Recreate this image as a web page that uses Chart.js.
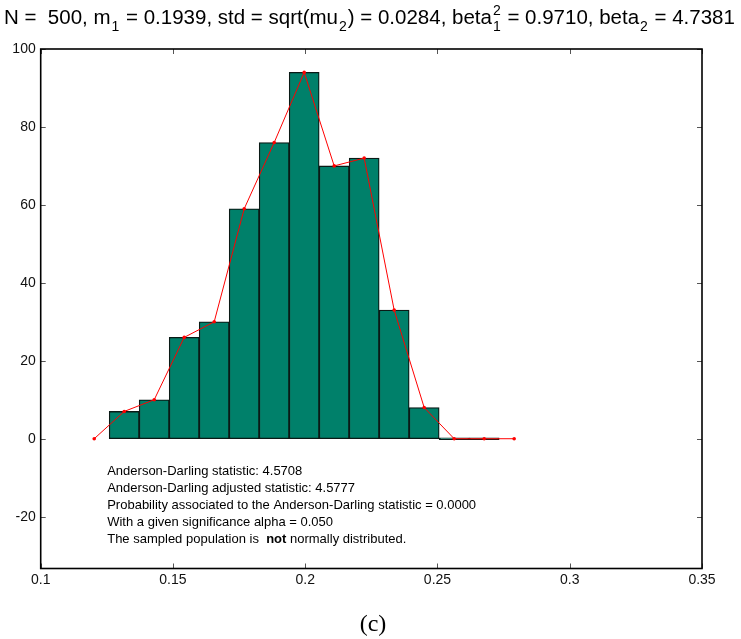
<!DOCTYPE html>
<html>
<head>
<meta charset="utf-8">
<title>Histogram</title>
<script src="https://cdn.jsdelivr.net/npm/chart.js@4.4.1/dist/chart.umd.min.js"></script>
<style>
    html, body { margin: 0; padding: 0; background: #fff; }
    #wrap { width: 741px; height: 639px; position: relative; }
</style>
</head>
<body>
<div id="wrap"><canvas id="hist"></canvas></div>
<script>
// Centres des classes de l'histogramme (13 classes + un point vide de chaque côté pour le polygone)
const binCenters = [0.12023, 0.13157, 0.14291, 0.15425, 0.16559, 0.17693, 0.18827, 0.19961,
                    0.21095, 0.22229, 0.23363, 0.24497, 0.25631, 0.26765, 0.27899];
// Effectifs par classe
const counts = [0, 7, 10, 26, 30, 59, 76, 94, 70, 72, 33, 8, 0, 0, 0];

// Graduations des axes
const xTicks = [0.1, 0.15, 0.2, 0.25, 0.3, 0.35];
const yTicks = [-20, 0, 20, 40, 60, 80, 100];

// Lignes de texte du test d'Anderson-Darling
const adLines = [
    'Anderson-Darling statistic: 4.5708',
    'Anderson-Darling adjusted statistic: 4.5777',
    'Probability associated to the Anderson-Darling statistic = 0.0000',
    'With a given significance alpha = 0.050'
];

const SANS = '"Liberation Sans", Arial, Helvetica, sans-serif';
const SERIF = '"Liberation Serif", "Times New Roman", serif';

// Barres : uniquement les 13 vraies classes
const barPoints = [];
for (let i = 1; i < binCenters.length - 1; i++) {
    barPoints.push({ x: binCenters[i], y: counts[i] });
}
// Polygone des effectifs : tous les points
const polyPoints = binCenters.map((x, i) => ({ x: x, y: counts[i] }));

/**
 * Cadre complet + petites graduations tournées vers l'intérieur
 */
const frameTicks = {
    id: 'frameTicks',
    afterDatasetsDraw(chart) {
        const { ctx, chartArea: a, scales } = chart;
        const len = 5;
        ctx.save();
        ctx.strokeStyle = '#555';
        ctx.lineWidth = 1;
        ctx.beginPath();
        scales.x.ticks.forEach(t => {
            const px = Math.round(scales.x.getPixelForValue(t.value)) + 0.5;
            ctx.moveTo(px, a.bottom); ctx.lineTo(px, a.bottom - len);
            ctx.moveTo(px, a.top); ctx.lineTo(px, a.top + len);
        });
        scales.y.ticks.forEach(t => {
            const py = Math.round(scales.y.getPixelForValue(t.value)) + 0.5;
            ctx.moveTo(a.left, py); ctx.lineTo(a.left + len, py);
            ctx.moveTo(a.right, py); ctx.lineTo(a.right - len, py);
        });
        ctx.stroke();

        ctx.strokeStyle = '#000';
        ctx.lineWidth = 1.6;
        ctx.strokeRect(a.left, a.top, a.right - a.left, a.bottom - a.top);
        ctx.restore();
    }
};

// Dessine une suite de morceaux de texte (normal, indice, exposant)
function drawRuns(ctx, runs, x, y) {
    runs.forEach(r => {
        const size = r.sub || r.sup ? 14 : 20.5;
        ctx.font = size + 'px ' + SANS;
        if (r.stack) {
            // exposant et indice empilés
            ctx.fillText(r.sup, x + 1, y - 9);
            ctx.fillText(r.sub, x + 1, y + 7);
            x += Math.max(ctx.measureText(r.sup).width, ctx.measureText(r.sub).width) + 2;
            return;
        }
        const txt = r.sub || r.sup || r.t;
        const dy = r.sub ? 7 : (r.sup ? -9 : 0);
        ctx.fillText(txt, x + (r.sub ? 1 : 0), y + dy);
        x += ctx.measureText(txt).width + (r.sub ? 2 : 0);
    });
}

/**
 * Titre avec indices, texte du test et légende (c)
 */
const textLayer = {
    id: 'textLayer',
    afterDraw(chart) {
        const { ctx, chartArea: a } = chart;
        ctx.save();
        ctx.fillStyle = '#000';
        ctx.textBaseline = 'alphabetic';
        ctx.textAlign = 'left';

        const titleRuns = [
            { t: 'N =  500, m' }, { sub: '1' },
            { t: ' = 0.1939, std = sqrt(mu' }, { sub: '2' },
            { t: ') = 0.0284, beta' }, { stack: true, sup: '2', sub: '1' },
            { t: ' = 0.9710, beta' }, { sub: '2' },
            { t: ' = 4.7381' }
        ];
        drawRuns(ctx, titleRuns, 4, 24);

        // Texte du test d'Anderson-Darling
        const tx = a.left + 66.5;
        let ty = 475;
        ctx.font = '13px ' + SANS;
        adLines.forEach(line => {
            ctx.fillText(line, tx, ty);
            ty += 17;
        });
        let x = tx;
        const p1 = 'The sampled population is  ';
        ctx.fillText(p1, x, ty);
        x += ctx.measureText(p1).width;
        ctx.font = 'bold 13px ' + SANS;
        ctx.fillText('not', x, ty);
        x += ctx.measureText('not').width;
        ctx.font = '13px ' + SANS;
        ctx.fillText(' normally distributed.', x, ty);

        // Légende de la figure
        ctx.font = '24px ' + SERIF;
        ctx.textAlign = 'center';
        ctx.fillText('(c)', 373, 631);
        ctx.restore();
    }
};

function initHistogram() {
    const ctx = document.getElementById('hist').getContext('2d');
    return new Chart(ctx, {
        type: 'bar',
        data: {
            datasets: [{
                type: 'line',
                data: polyPoints,
                borderColor: '#ff0000',
                backgroundColor: '#ff0000',
                borderWidth: 1,
                pointRadius: 1.8,
                pointBorderWidth: 0,
                pointBackgroundColor: '#ff0000',
                tension: 0,
                order: 0
            }, {
                type: 'bar',
                data: barPoints,
                backgroundColor: '#00806a',
                borderColor: '#0a1a16',
                borderWidth: 1.3,
                borderSkipped: false,
                minBarLength: 2,
                barPercentage: 1,
                categoryPercentage: 1,
                order: 1
            }]
        },
        options: {
            responsive: true,
            maintainAspectRatio: false,
            animation: false,
            layout: {
                padding: { top: 49, right: 39, left: 0, bottom: 0 }
            },
            plugins: {
                legend: { display: false },
                tooltip: { enabled: false },
                title: { display: false }
            },
            scales: {
                x: {
                    type: 'linear',
                    offset: false,
                    min: 0.1,
                    max: 0.35,
                    afterBuildTicks: s => { s.ticks = xTicks.map(v => ({ value: v })); },
                    afterFit: s => { s.height = 70.5; },
                    grid: { display: false, drawTicks: false },
                    border: { display: false },
                    ticks: {
                        color: '#111',
                        padding: 3,
                        maxRotation: 0,
                        font: { family: SANS, size: 14 },
                        callback: v => String(v)
                    }
                },
                y: {
                    min: -33.3,
                    max: 100,
                    afterBuildTicks: s => { s.ticks = yTicks.map(v => ({ value: v })); },
                    afterFit: s => { s.width = 40.7; },
                    grid: { display: false, drawTicks: false },
                    border: { display: false },
                    ticks: {
                        color: '#111',
                        padding: 5,
                        font: { family: SANS, size: 14 }
                    }
                }
            }
        },
        plugins: [frameTicks, textLayer]
    });
}

initHistogram();
</script>
</body>
</html>
